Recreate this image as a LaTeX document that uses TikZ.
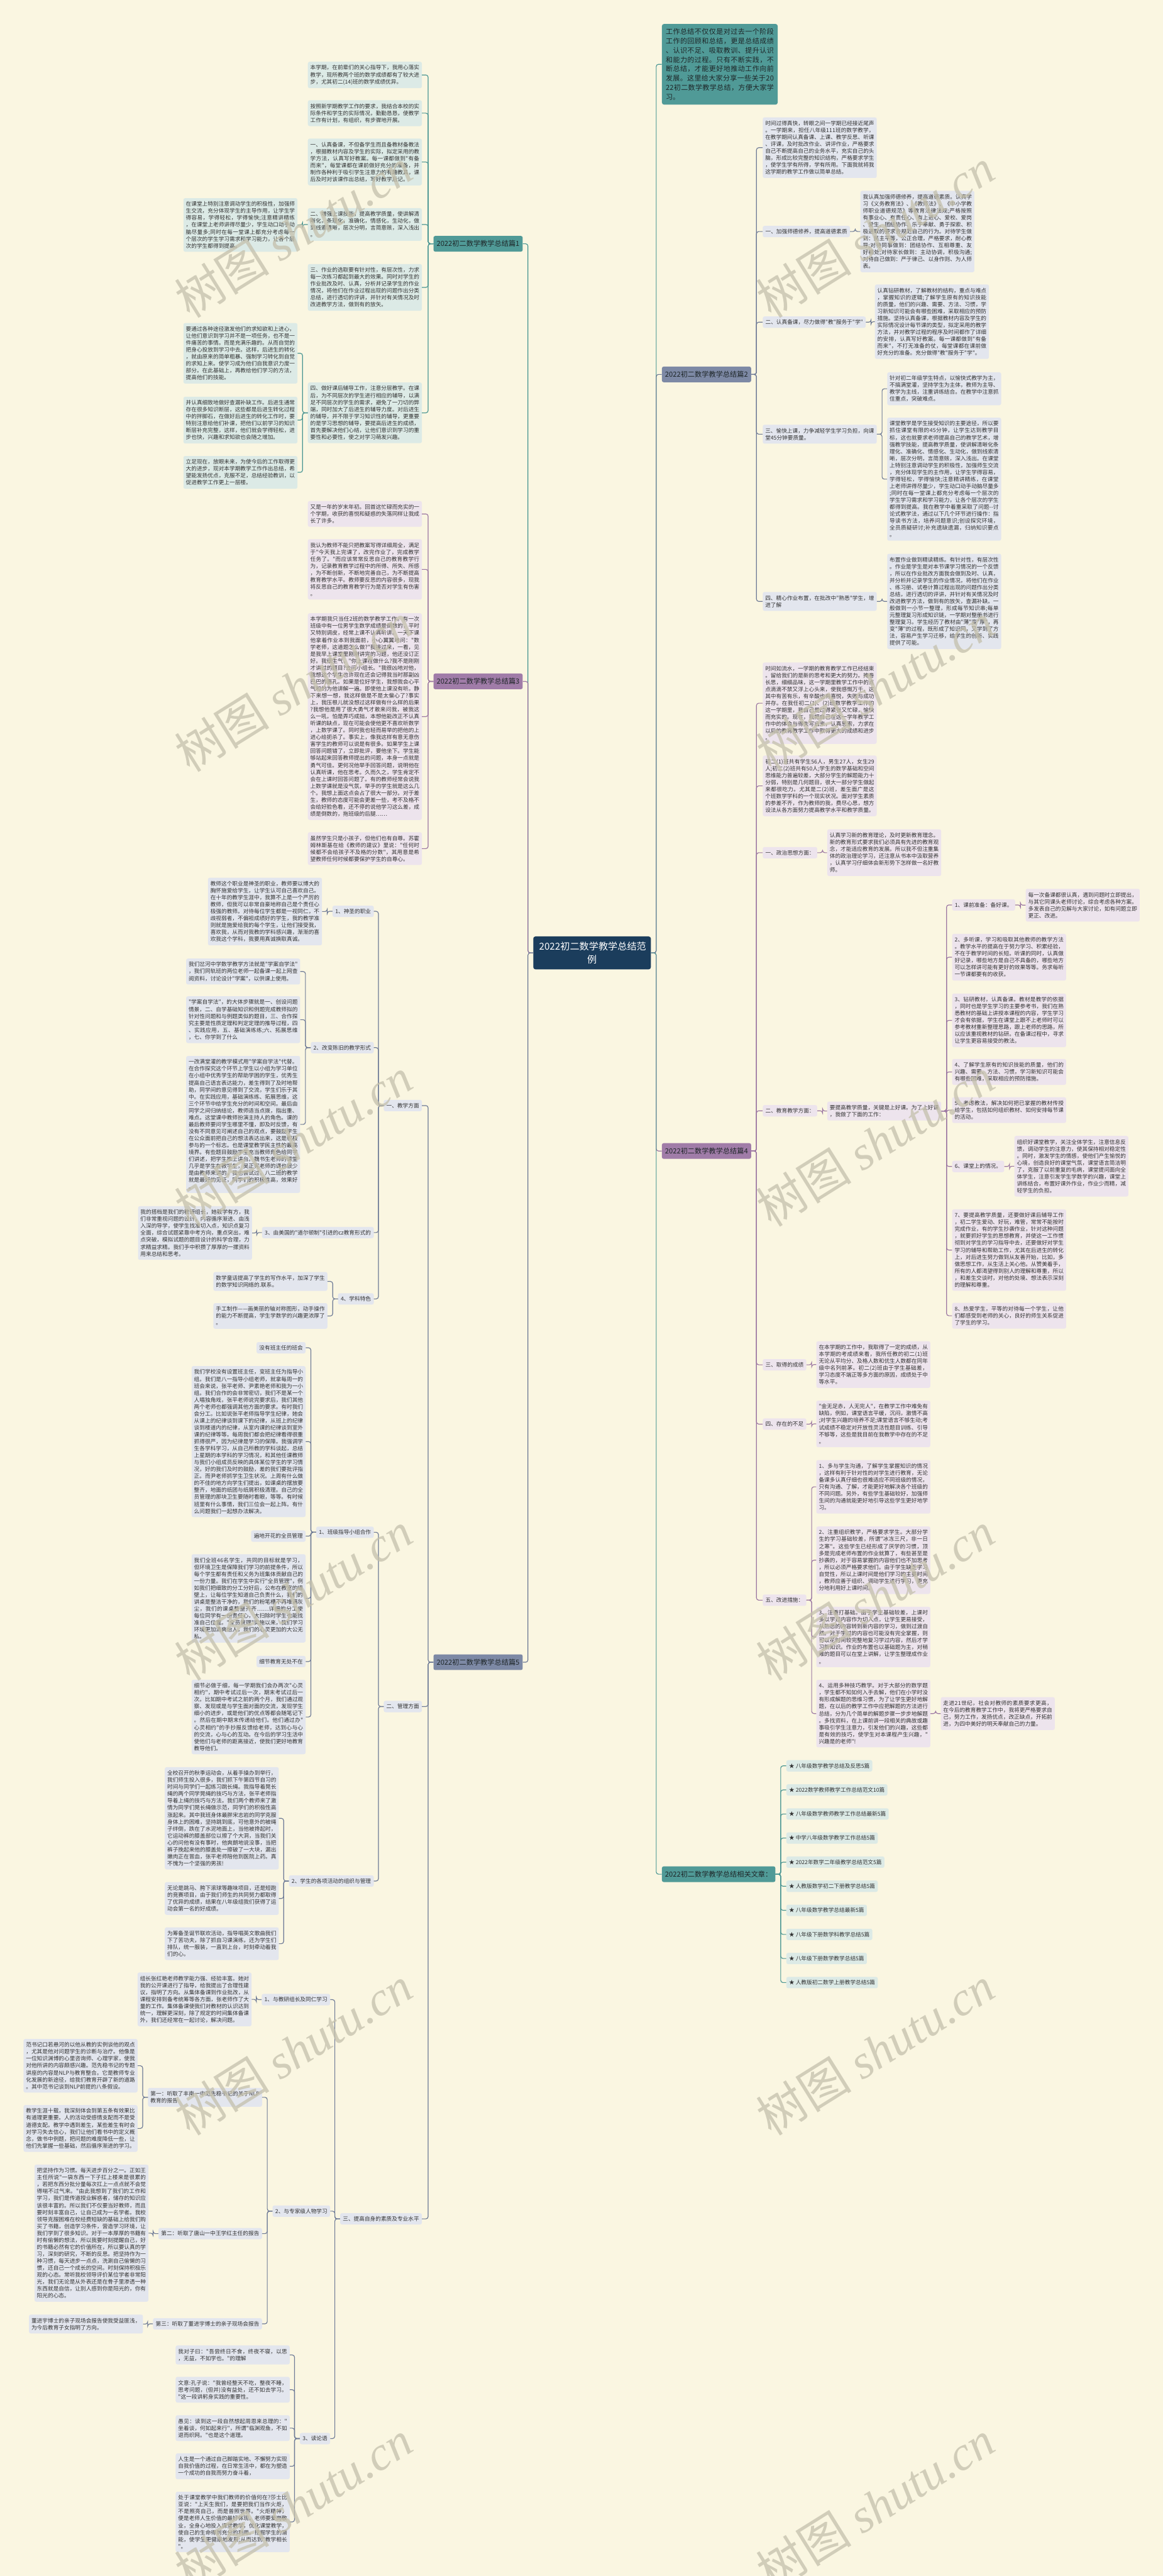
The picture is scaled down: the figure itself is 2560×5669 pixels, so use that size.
\documentclass[tikz,border=0pt]{standalone}
\usepackage{fontspec}
\newfontfamily\cjk{Noto Sans CJK SC}
\newfontfamily\wmlat{Liberation Serif}
\setlength\parindent{0pt}
\ExplSyntaxOn
\NewDocumentCommand\cb{m}{\tl_map_inline:nn{#1}{##1\penalty0\hskip0pt~plus~0.8pt\relax}}
\ExplSyntaxOff
\definecolor{bgc}{RGB}{250,246,225}
\definecolor{txtc}{RGB}{51,51,51}
\definecolor{brTxt}{RGB}{30,38,40}
\definecolor{tealL}{RGB}{74,150,147}
\definecolor{tealF}{RGB}{80,154,151}
\definecolor{tealLt}{RGB}{220,234,230}
\definecolor{purL}{RGB}{155,118,162}
\definecolor{purF}{RGB}{160,124,168}
\definecolor{purLt}{RGB}{237,228,237}
\definecolor{slaL}{RGB}{110,122,150}
\definecolor{slaF}{RGB}{125,137,165}
\definecolor{slaLt}{RGB}{227,230,238}
\definecolor{navy}{RGB}{27,61,92}
\definecolor{wmC}{RGB}{196,192,172}
\tikzset{
 ln/.style={line width=1.6pt, rounded corners=5pt},
 tln/.style={ln, draw=tealL}, pln/.style={ln, draw=purL}, sln/.style={ln, draw=slaL},
 bx/.style={rounded corners=4pt, inner xsep=5.5pt, inner ysep=7.5pt, text width=240pt, align=justify, font=\cjk\fontsize{12pt}{15.3pt}\selectfont, text=txtc},
 tbox/.style={bx, fill=tealLt}, pbox/.style={bx, fill=purLt}, sbox/.style={bx, fill=slaLt},
 lbl/.style={rounded corners=4pt, inner xsep=6pt, inner ysep=6.5pt, text height=10.5pt, text depth=1.5pt, font=\cjk\fontsize{12pt}{15.3pt}\selectfont, text=txtc},
 tlab/.style={lbl, fill=tealLt}, plab/.style={lbl, fill=purLt}, slab/.style={lbl, fill=slaLt},
 brn/.style={rounded corners=4pt, inner xsep=7pt, inner ysep=9.5pt, text height=13.5pt, text depth=2pt, font=\cjk\fontsize{15.5pt}{18pt}\selectfont, text=brTxt},
 wm/.style={font=\cjk\fontsize{105pt}{105pt}\selectfont, text=wmC, opacity=0.75, rotate=32},
}
\newcommand\conR[3]{\draw[#3] (#1.east) -- ++(11.5,0) |- (#2.west);}
\newcommand\conL[3]{\draw[#3] (#1.west) -- ++(-11.5,0) |- (#2.east);}
\begin{document}
\begin{tikzpicture}[x=1pt,y=-1pt]
\fill[bgc] (0,0) rectangle (2560,5669);
\useasboundingbox (0,0) rectangle (2560,5669);

% ---------- root and intro
\node[fill=navy, text=white, rounded corners=5pt, inner xsep=13pt, inner ysep=12.5pt, text width=233pt, align=center, font=\cjk\fontsize{21pt}{28pt}\selectfont] (root) at (1303.5,2097) {2022初二数学教学总结范\\例};
\node[fill=tealF, rounded corners=5pt, inner xsep=8.5pt, inner ysep=9.4pt, text width=238pt, align=justify, font=\cjk\fontsize{15.3pt}{20.7pt}\selectfont, text=brTxt, anchor=west] (intro) at (1457,141.5) {\cb{工作总结不仅仅是对过去一个阶段工作的回顾和总结，更是总结成绩、认识不足、吸取教训、提升认识和能力的过程。只有不断实践，不断总结，才能更好地推动工作向前发展。这里给大家分享一些关于2022初二数学教学总结，方便大家学习。}};

% ---------- branch labels
\node[brn, fill=tealF, anchor=east] (p1) at (1151,536.5) {2022初二数学教学总结篇1};
\node[brn, fill=purF, anchor=east] (p3) at (1151,1499.5) {2022初二数学教学总结篇3};
\node[brn, fill=slaF, anchor=east] (p5) at (1151,3658) {2022初二数学教学总结篇5};
\node[brn, fill=slaF, anchor=west] (p2) at (1457,824) {2022初二数学教学总结篇2};
\node[brn, fill=purF, anchor=west] (p4) at (1457,2533) {2022初二数学教学总结篇4};
\node[brn, fill=tealF, anchor=west] (pr) at (1457,4124.5) {2022初二数学教学总结相关文章：};

% ---------- 篇1
\node[tbox, anchor=east] (a1) at (929,165) {\cb{本学期，在前辈们的关心指导下，我用心落实教学，现所教两个班的数学成绩都有了较大进步，尤其初二(14)班的数学成绩优异。}};
\node[tbox, anchor=east] (a2) at (929,249) {\cb{按照新学期教学工作的要求，我结合本校的实际条件和学生的实际情况，勤勤恳恳，使教学工作有计划，有组织，有步骤地开展。}};
\node[tbox, anchor=east] (a3) at (929,356.5) {\cb{一、认真备课，不但备学生而且备教材备教法，根据教材内容及学生的实际，拟定采用的教学方法，认真写好教案。每一课都做到"有备而来"，每堂课都在课前做好充分的准备，并制作各种利于吸引学生注意力的有趣教具，课后及时对该课作出总结，写好教学后记。}};
\node[tbox, anchor=east] (a4) at (929,494) {\cb{二、增强上课技能，提高教学质量，使讲解清晰化，条理化，准确化，情感化，生动化，做到线索清晰，层次分明，言简意赅，深入浅出。}};
\node[tbox, anchor=east] (a4x) at (655,495) {\cb{在课堂上特别注意调动学生的积极性，加强师生交流，充分体现学生的主导作用，让学生学得容易，学得轻松，学得愉快;注意精讲精练，在课堂上老师讲得尽量少，学生动口动手动脑尽量多;同时在每一堂课上都充分考虑每一个层次的学生学习需求和学习能力，让各个层次的学生都得到提高。}};
\node[tbox, anchor=east] (a5) at (929,632.5) {\cb{三、作业的选取要有针对性，有层次性，力求每一次练习都起到最大的效果。同时对学生的作业批改及时、认真，分析并记录学生的作业情况，将他们在作业过程出现的问题作出分类总结，进行透切的评讲，并针对有关情况及时改进教学方法，做到有的放矢。}};
\node[tbox, anchor=east] (a6) at (929,908.5) {\cb{四、做好课后辅导工作，注意分层教学。在课后，为不同层次的学生进行相应的辅导，以满足不同层次的学生的需求，避免了一刀切的弊端，同时加大了后进生的辅导力度。对后进生的辅导，并不限于学习知识性的辅导，更重要的是学习思想的辅导，要提高后进生的成绩，首先要解决他们心结，让他们意识到学习的重要性和必要性，使之对学习萌发兴趣。}};
\node[tbox, anchor=east] (a6a) at (655,777.5) {\cb{要通过各种途径激发他们的求知欲和上进心，让他们意识到学习并不是一项任务，也不是一件痛苦的事情。而是充满乐趣的。从而自觉的把身心投放到学习中去。这样，后进生的转化，就由原来的简单粗暴、强制学习转化到自觉的求知上来。使学习成为他们自我意识力度一部分。在此基础上，再教给他们学习的方法，提高他们的技能。}};
\node[tbox, anchor=east] (a6b) at (655,924.5) {\cb{并认真细致地做好查漏补缺工作。后进生通常存在很多知识断层，这些都是后进生转化过程中的拌脚石，在做好后进生的转化工作时，要特别注意给他们补课，把他们以前学习的知识断层补充完整，这样，他们就会学得轻松，进步也快，兴趣和求知欲也会随之增加。}};
\node[tbox, anchor=east] (a6c) at (655,1039.5) {\cb{立足现在，放眼未来，为使今后的工作取得更大的进步，现对本学期教学工作作出总结，希望能发扬优点，克服不足，总结经验教训，以促进教学工作更上一层楼。}};

% ---------- 篇3
\node[pbox, anchor=east] (b1) at (929,1131) {\cb{又是一年的岁末年初。回首这忙碌而充实的一个学期，收获的喜悦和疑惑的失落同样让我成长了许多。}};
\node[pbox, anchor=east] (b2) at (929,1253) {\cb{我认为教师不能只把教案写得详细周全，满足于"今天我上完课了，改完作业了，完成教学任务了。"而应该常常反思自己的教育教学行为，记录教育教学过程中的所得、所失、所感，为不断创新，不断地完善自己，为不断提高教育教学水平。教师要反思的内容很多，现我将反思自己的教育教学行为是否对学生有伤害。}};
\node[pbox, anchor=east] (b3) at (929,1577) {\cb{本学期我只当任2班的数学教学工作。有一次班级中有一位男学生数学成绩是倒数的，平时又特别调皮，经常上课不认真听讲。一天下课他拿着作业本到我面前，小心翼翼地问："数学老师，这道题怎么做?"我接过来，一看，见是我早上课堂里刚刚讲完的习题，他还没订正好。我很生气，"你上课在做什么?我不是刚刚才讲过的题目?去问小组长。"我很凶地对他，我想这个学生也许现在还会记得我当时那副凶巴巴的面孔。如果是位好学生，我想我会心平气和的为他讲解一遍。即使他上课没有听。静下来想一想，我这样做是不是太偏心了?事实上，我压根儿就没想过这样做有什么样的后果?我想他是用了很大勇气才敢来问我，被我这么一吼，怕是弄巧成拙，本想他能改正不认真听课的缺点，现在可能会使他更不喜欢听数学，上数学课了。同时我也轻而易举的把他的上进心给扼杀了。事实上，像我这样有意无意伤害学生的教师可以说是有很多。如果学生上课回答问题错了，立即批评，要他坐下。学生能够站起来回答教师提出的问题，本身一点就是勇气可佳。更何况他举手回答问题，说明他在认真听课，他在思考。久而久之，学生肯定不会在上课时回答问题了。有的教师经常会说我上数学课就是没气氛，举手的学生就是这么几个。我想上面这点会占了很大一部分。对于差生，教师的态度可能会更差一些，考不及格不会给好脸色看，还不停的说他学习这么差，成绩是倒数的，拖班级的后腿……}};
\node[pbox, anchor=east] (b4) at (929,1867.5) {\cb{虽然学生只是小孩子，但他们也有自尊。苏霍姆林斯基在给《教师的建议》里说："任何时候都不会给孩子不及格的分数"，其用意是希望教师任何时候都要保护学生的自尊心。}};

% ---------- 篇5
\node[slab, anchor=east] (e1) at (929,2433) {一、教学方面};
\node[slab, anchor=east] (e11) at (823,2005.5) {1、神圣的职业};
\node[sbox, anchor=east] (e11x) at (709,2006) {\cb{教师这个职业是神圣的职业，教师要以博大的胸怀施爱给学生，让学生认可自己喜欢自己。在十年的教学生涯中，我算不上是一个严厉的教师，但我可以非常自豪地称自己是个责任心极强的教师。对待每位学生都是一视同仁，不歧视弱者，不偏袒成绩好的学生，我的教学准则就是施爱给我的每个学生，让他们接受我，喜欢我，从而对我教的学科感兴趣，渐渐的喜欢我这个学科，我要用真诚换取真诚。}};
\node[slab, anchor=east] (e12) at (823,2305.5) {2、改变陈旧的教学形式};
\node[sbox, anchor=east] (e12a) at (661,2138) {\cb{我们岔河中学数学教学方法就是"学案自学法"，我们同轨班的两位老师一起备课一起上网查阅资料，讨论设计"学案"，以供课上使用。}};
\node[sbox, anchor=east] (e12b) at (661,2244) {\cb{"学案自学法"，的大体步骤就是一、创设问题情景，二、自学基础知识和例题完成教师拟的针对性问题和与例题类似的题目，三、合作探究主要是性质定理和判定定理的推导过程，四、实践应用，五、基础演练练;六、拓展思维，七、你学到了什么}};
\node[sbox, anchor=east] (e12c) at (661,2474.5) {\cb{一改满堂灌的教学模式用"学案自学法"代替。在合作探究这个环节上学生以小组为学习单位在小组中优秀学生的帮助学困的学生，优秀生提高自己语言表达能力，差生得到了及时地帮助，同学间的意见得到了交流，学生们乐于其中。在实践应用，基础演练练、拓展思维，这三个环节中给学生充分的时间和空间。最后由同学之间归纳结论，教师适当点拨，指出重、难点。这堂课中教师扮演主持人的角色。课的最后教师要问学生哪里不懂，即及时反馈，有没有不同意见可阐述自己的观点，要鼓励学生在公众面前把自己的想法表达出来，这是积极参与的一个标志。也是课堂教学民主性的最高境界。有些题目鼓励学生充当教师角色给同学们讲述，把学生推上讲台。魏书生老师的课堂几乎是学生在教学生，吴正宪老师的课也很少是由教师来讲的，我也尝试过，八二班的教学就是最好的见证，同学们的积极性高，效果好。}};
\node[slab, anchor=east] (e13) at (823,2712.5) {3、由美国的"道尔顿制"引进的cz教育形式的};
\node[sbox, anchor=east] (e13x) at (555,2713.5) {\cb{我的搭档是我们的教研组长，她教学有方，我们非常重视问题的设计，内容循序渐进、由浅入深的导学，使学生找准切入点，知识点复习全面，综合试题紧靠中考方向，重点突出，难点突破，模拟试题的题目设计的科学合理，力求精益求精。我们手中积攒了厚厚的一摞资料用来总结和思考。}};
\node[slab, anchor=east] (e14) at (823,2858.5) {4、学科特色};
\node[sbox, anchor=east] (e14a) at (721,2820) {\cb{数学童话提高了学生的写作水平，加深了学生的数学知识网络的.联系。}};
\node[sbox, anchor=east] (e14b) at (721,2896) {\cb{手工制作——画美丽的轴对称图形，动手操作的能力不断提高，学生学数学的兴趣更浓厚了。}};

\node[slab, anchor=east] (e2) at (929,3755.5) {二、管理方面};
\node[slab, anchor=east] (e21) at (823,3372) {1、班级指导小组合作};
\node[slab, anchor=east] (e21a) at (673,2966) {没有班主任的班会};
\node[sbox, anchor=east] (e21b) at (673,3172.5) {\cb{我们学校没有设置班主任，变班主任为指导小组。我们是八一指导小组老师，就拿每周一的班会来说，张平老师、尹素艳老师和我为一小组。我们合作的会非常密切，我们不是某一个人唱独角戏，张平老师说完要求后，我们其他两个老师也都强调其他方面的要求。有时我们会分工。比如说张平老师指导学生纪律，她会从课上的纪律谈到课下的纪律，从班上的纪律谈到楼道内的纪律，从室内课的纪律谈到室外课的纪律等等。每周我们都会把纪律看得很重抓得很严，因为纪律是学习的保障。我强调学生各学科学习，从自己所教的学科谈起，总结上星期的本学科的学习情况，和其他任课教师与我们小组成员反映的具体某位学生的学习情况，好的我们及时的鼓励，差的我们要批评指正。而尹老师抓学生卫生状况。上周有什么做的不佳的地方向学生们提出，如课桌的摆放要整齐，地面的纸团与纸屑积极清理。自己的全员管理的那块卫生要随时看眼，等等。有时候班里有什么事情，我们三位会一起上阵。有什么问题我们一起想办法解决。}};
\node[slab, anchor=east] (e21c) at (673,3380.5) {遍地开花的全员管理};
\node[sbox, anchor=east] (e21d) at (673,3517.5) {\cb{我们全班46名学生，共同的目标就是学习，但环境卫生是保障我们学习的前提条件，所以每个学生都有责任和义务为班集体贡献自己的一份力量。我们在学生中实行"全员管理"，例如我们把细致的分工分好后，公布在教室的墙壁上，让每位学生知道自己负责什么，我们的讲桌是整洁干净的，我们的粉笔槽不再堆满灰尘，我们的课桌整整齐齐……详细的分工使每位同学有一份责任心，大扫除时学生也能找准自己位置。"全员管理"实施以来，我们学习环境更加清爽怡人，我们的心灵更加的大公无私。}};
\node[slab, anchor=east] (e21e) at (673,3656.5) {细节教育无处不在};
\node[sbox, anchor=east] (e21f) at (673,3778.5) {\cb{细节必做于细，每一学期我们会办两次"心灵相约"，期中考试过后一次，期末考试过后一次。比如期中考试之前的两个月，我们通过观察、发现或是与学生面对面的交流，发现学生细小的进步，或是他们的优点等都会随笔记下。然后在期中期末传递给他们。他们通过办"心灵相约"的手抄报反馈给老师，达到心与心的交流，心与心的互动。在今后的学习生活中使他们与老师的距离接近，使我们更好地教育教导他们。}};
\node[slab, anchor=east] (e22) at (823,4139.5) {2、学生的各项活动的组织与管理};
\node[sbox, anchor=east] (e22a) at (614,4001.5) {\cb{全校召开的秋季运动会，从着手操办到举行，我们师生投入很多，我们抓下午第四节自习的时间与同学们一起练习跳长绳。我指导着晃长绳的两个同学晃绳的技巧与方法，张平老师指导着上绳的技巧与方法。我们两个教师来了激情为同学们晃长绳做示范，同学们的积极性高涨起来。其中我班身体最胖宋志岩的同学克服身体上的困难，坚持跳到底，可他意外的被绳子绊倒，跌在了水泥地面上，当他被搀起时，它运动裤的膝盖部位以擦了个大洞，当我们关心的问他有没有事时，他爽朗地说没事，当把裤子挽起来他的膝盖处一擦破了一大块，漏出嫩肉正在冒血，张平老师陪他到医院上药。真不愧为一个坚强的男孩!}};
\node[sbox, anchor=east] (e22b) at (614,4178) {\cb{无论是跳马、胯下滚球等趣味项目，还是短跑的竞赛项目，由于我们师生的共同努力都取得了优异的成绩，结果在八年级组我们获得了运动会第一名的好成绩。}};
\node[sbox, anchor=east] (e22c) at (614,4277.5) {\cb{为筹备圣诞节联欢活动，指导唱英文歌曲我们下了苦功夫，除了抓自习课演练，还为学生们排队，统一服装，一直到上台，时刻牵动着我们的心。}};

\node[slab, anchor=east] (e3) at (929,4883) {三、提高自身的素质及专业水平};
\node[slab, anchor=east] (e31) at (727,4400.5) {1、与教研组长及同仁学习};
\node[sbox, anchor=east] (e31x) at (554,4400) {\cb{组长张红艳老师教学能力强、经验丰富。她对我的公开课进行了指导，给我提出了合理性建议，指明了方向。从集体备课到作业批改，从课程安排到备考统筹等各方面，张老师作了大量的工作。集体备课使我们对教材的认识达到统一，理解更深刻，除了规定的时间集体备课外，我们还经常在一起讨论，解决问题。}};
\node[slab, anchor=east] (e32) at (727,4866) {2、与专家级人物学习};
\node[sbox, anchor=east] (e32a) at (577,4615.5) {\cb{第一：听取了丰南一中范先稳书记的关于NLP教育的报告}};
\node[sbox, anchor=east] (e32a1) at (303,4546) {\cb{范书记口若悬河的以他从教的实例谈他的观点，尤其是他对问题学生的诊断与治疗。他像是一位知识渊博的心里咨询师、心理学家，使我对他所讲的内容颇感兴趣。范先稳书记的专题讲座的内容是NLP与教育整合。它是教师专业化发展的新途径，给我们教育开辟了新的道路。其中范书记谈到NLP前提的八条假设。}};
\node[sbox, anchor=east] (e32a2) at (303,4684) {\cb{教学生涯十载，我深刻体会到第五条有效果比有道理更重要。人的活动受感情支配而不是受道德支配。教学中遇到差生，某些差生有时会对学习失去信心，我们让他们看书中的定义概念，做书中例题，把问题的难度降低一些，让他们先掌握一些基础，然后循序渐进的学习。}};
\node[slab, anchor=east] (e32b) at (577,4915.5) {第二：听取了唐山一中王学红主任的报告};
\node[sbox, anchor=east] (e32bx) at (327,4914.5) {\cb{把坚持作为习惯。每天进步百分之一。正如王主任所说"一袋东西一下子扛上楼来是很累的，若把东西分批分量每次扛上一点点就不会觉得喘不过气来。"由此我想到了我们的工作和学习，我们是传道授业解惑者，储存的知识应该很丰富的。所以我们不仅要当好教师，而且要时刻丰富自己，让自己成为一名学者。我校领导克服困难在校经费短缺的基础上给我们购买了书籍，创造学习条件，营造学习环境，让我们学到了很多知识。对于一本厚厚的书籍有时有偷懒的想法，所以我要时刻提醒自己，好的书籍必然有它的价值所在，所以要认真的学习，深刻的研究，不断的反思。把坚持作为一种习惯，每天进步一点点，洗涮自己偷懒的习惯，还自己一个成长的空间。时刻保持积极乐观的心态。常听我校领导评价某位学者非常阳光，我们无论是从外表还是在骨子里渗透一种东西就是自信，让别人感到你是阳光的，你有阳光的心态。}};
\node[slab, anchor=east] (e32c) at (577,5114) {第三：听取了董进宇博士的亲子现场会报告};
\node[sbox, anchor=east] (e32cx) at (315,5114.5) {\cb{董进宇博士的亲子现场会报告使我受益匪浅，为今后教育子女指明了方向。}};
\node[slab, anchor=east] (e33) at (727,5366.5) {3、读论语};
\node[sbox, anchor=east] (e33a) at (638,5182.5) {\cb{我对子曰："吾尝终日不食，终夜不寝，以思，无益，不如学也。"的理解}};
\node[sbox, anchor=east] (e33b) at (638,5259) {\cb{文意:孔子说："我曾经整天不吃，整夜不睡，思考问题，(但并)没有益处，还不如去学习。"这一段讲躬身实践的重要性。}};
\node[sbox, anchor=east] (e33c) at (638,5343.5) {\cb{愚见：读到这一段自然想起周恩来总理的："坐着谈，何如起来行"，所谓"临渊观鱼，不如退而织网。"也是这个道理。}};
\node[sbox, anchor=east] (e33d) at (638,5427.5) {\cb{人生是一个通过自己脚踏实地、不懈努力实现自我价值的过程，在日常生活中，都在为塑造一个成功的自我而努力奋斗着，}};
\node[sbox, anchor=east] (e33e) at (638,5550) {\cb{处于课堂教学中我们教师的价值何在?莎士比亚说："上天生我们，是要把我们当作火炬，不是照亮自己，而是普照世界。"火炬精神，便是老师人生价值的最好体现。老师要爱岗敬业，全身心地投入课堂教学，优化课堂教学，使自己的生命得到充分的利用。挖掘学生的潜能，使学生更健康地发展;从而达到"教学相长"。}};

% ---------- 篇2
\node[sbox, anchor=west] (f1) at (1679,325) {\cb{时间过得真快，转眼之间一学期已经接近尾声。一学期来，担任八年级111班的数学教学，在教学期间认真备课、上课、教学反思、听课、评课，及时批改作业、讲评作业，严格要求自己不断提高自己的业务水平，充实自己的头脑，形成比较完整的知识结构，严格要求学生，使学生学有所得，学有所用。下面我就将我这学期的教学工作做以简单总结。}};
\node[slab, anchor=west] (f2) at (1679,509.5) {一、加强师德修养，提高道德素质};
\node[sbox, anchor=west] (f2x) at (1894,509.5) {\cb{我认真加强师德修养，提高道德素质。认真学习《义务教育法》、《教师法》、《中小学教师职业道德规范》等教育法律法规;严格按照有事业心、有责任心、有上进心、爱校、爱岗、爱生、团结协作、乐于奉献、勇于探索、积极进取的要求去规范自己的行为。对待学生做到：民主平等，公正合理，严格要求，耐心教导;对待同事做到：团结协作、互相尊重、友好相处;对待家长做到：主动协调，积极沟通;对待自己做到：严于律己、以身作则、为人师表。}};
\node[slab, anchor=west] (f3) at (1679,709) {二、认真备课，尽力做得"教"服务于"学"};
\node[sbox, anchor=west] (f3x) at (1926,708) {\cb{认真钻研教材，了解教材的结构，重点与难点，掌握知识的逻辑;了解学生原有的知识技能的质量，他们的兴趣、需要、方法、习惯，学习新知识可能会有哪些困难，采取相应的预防措施。坚持认真备课，根据教材内容及学生的实际情况设计每节课的类型，拟定采用的教学方法，并对教学过程的程序及时间都作了详细的安排，认真写好教案。每一课都做到"有备而来"，不打无准备的仗，每堂课都在课前做好充分的准备。充分做得"教"服务于"学"。}};
\node[sbox, anchor=west] (f4) at (1679,955.5) {\cb{三、愉快上课，力争减轻学生学习负担，向课堂45分钟要质量。}};
\node[sbox, anchor=west] (f4a) at (1953,855.5) {\cb{针对初二年级学生特点，以愉快式教学为主，不搞满堂灌，坚持学生为主体，教师为主导、教学为主线，注重讲练结合。在教学中注意抓住重点，突破难点。}};
\node[sbox, anchor=west] (f4b) at (1953,1054.5) {\cb{课堂教学是学生接受知识的主要途径，所以要抓住课堂有限的45分钟，让学生达到教学目标，这也就要求老师提高自己的教学艺术，增强教学技能，提高教学质量，使讲解清晰化条理化、准确化、情感化、生动化，做到线索清晰，层次分明，言简意赅，深入浅出。在课堂上特别注意调动学生的积极性，加强师生交流，充分体现学生的主作用，让学生学得容易，学得轻松，学得愉快;注意精讲精练，在课堂上老师讲得尽量少，学生动口动手动脑尽量多;同时在每一堂课上都充分考虑每一个层次的学生学习需求和学习能力，让各个层次的学生都得到提高。我在教学中着重采取了问题--讨论式教学法，通过以下几个环节进行操作：指导读书方法，培养问题意识;创设探究环境，全员质疑研讨;补充遗缺遗漏，归纳知识要点。}};
\node[sbox, anchor=west] (f5) at (1679,1323.5) {\cb{四、精心作业布置，在批改中"熟悉"学生，增进了解}};
\node[sbox, anchor=west] (f5x) at (1953,1323.5) {\cb{布置作业做到精读精练。有针对性，有层次性。作业是学生是对本节课学习情况的一个反馈，所以在作业批改方面我会做到及时、认真，并分析并记录学生的作业情况，将他们在作业、练习册、试卷计算过程出现的问题作出分类总结，进行透切的评讲，并针对有关情况及时改进教学方法，做到有的放矢，查漏补缺。一般做到一小节一整理，形成每节知识串;每单元整理复习形成知识链，一学期对整册书进行整理复习。学生经历了教材由"薄"变"厚"，再变"薄"的过程，既形成了知识网，又学到了方法，容易产生学习迁移，给学生的创新、实践提供了可能。}};

% ---------- 篇4
\node[pbox, anchor=west] (g1) at (1679,1547.5) {\cb{时间如流水，一学期的教育教学工作已经结束。留给我们的是新的思考和更大的努力。掩卷长思，细细品味，这一学期里教学工作中的点点滴滴不禁又浮上心头来，使我感慨万千，这其中有苦有乐，有辛酸也有喜悦，失败与成功并存。在我任初二(1)、(2)班数学教学工作的这一学期里，我自己是过得紧张又忙碌，愉快而充实的。现在，我把自己在这一学年教学工作中的体会与得失写出来，认真思索，力求在以后的教育教学工作中取得更大的成绩和进步。}};
\node[pbox, anchor=west] (g2) at (1679,1729.5) {\cb{初二(1)班共有学生56人，男生27人，女生29人;初二(2)班共有50人;学生的数学基础和空间思维能力普遍较差，大部分学生的解题能力十分弱，特别是几何题目，很大一部分学生做起来都很吃力。尤其是二(2)班，差生面广是这个班数学学科的一个现实状况。面对学生素质的参差不齐，作为教师的我，费尽心思，想方设法从各方面努力提高教学水平和教学质量。}};
\node[plab, anchor=west] (g3) at (1679,1876.5) {一、政治思想方面：};
\node[pbox, anchor=west] (g3x) at (1821,1876.5) {\cb{认真学习新的教育理论，及时更新教育理念。新的教育形式要求我们必须具有先进的教育观念，才能适应教育的发展。所以我不但注重集体的政治理论学习，还注意从书本中汲取营养，认真学习仔细体会新形势下怎样做一名好教师。}};
\node[plab, anchor=west] (g4) at (1679,2444.5) {二、教育教学方面：};
\node[pbox, anchor=west] (g4x) at (1821,2445) {\cb{要提高教学质量，关键是上好课。为了上好课，我做了下面的工作：}};
\node[plab, anchor=west] (h1) at (2096,1991.5) {1、课前准备：备好课。};
\node[pbox, anchor=west] (h1x) at (2258,1992) {\cb{每一次备课都很认真，遇到问题时立即提出，与其它同课头老师讨论，综合考虑各种方案。多发表自己的见解与大家讨论，如有问题立即更正、改进。}};
\node[pbox, anchor=west] (h2) at (2096,2106.5) {\cb{2、多听课，学习和吸取其他教师的教学方法。教学水平的提高在于努力学习、积累经验，不在于教学时间的长短。听课的同时，认真做好记录，哪些地方是自己不具备的，哪些地方可以怎样讲可能有更好的效果等等。务求每听一节课都要有的收获。}};
\node[pbox, anchor=west] (h3) at (2096,2245.5) {\cb{3、钻研教材，认真备课。教材是教学的依据，同时也是学生学习的主要参考书，我们在熟悉教材的基础上讲授本课程的内容，学生学习才会有依据，学生在课堂上跟不上老师时可以参考教材重新整理思路，跟上老师的思路，所以应该重视教材的钻研。在备课过程中，寻求让学生更容易接受的教法。}};
\node[pbox, anchor=west] (h4) at (2096,2359) {\cb{4、了解学生原有的知识技能的质量，他们的兴趣、需要、方法、习惯，学习新知识可能会有哪些困难，采取相应的预防措施。}};
\node[pbox, anchor=west] (h5) at (2096,2443) {\cb{5、考虑教法，解决如何把已掌握的教材传授给学生，包括如何组织教材、如何安排每节课的活动。}};
\node[plab, anchor=west] (h6) at (2096,2567) {6、课堂上的情况。};
\node[pbox, anchor=west] (h6x) at (2233,2566.5) {\cb{组织好课堂教学，关注全体学生，注意信息反馈，调动学生的注意力，使其保持相对稳定性。同时，激发学生的情感，使他们产生愉悦的心境，创造良好的课堂气氛，课堂语言简洁明了，克服了以前重复的毛病，课堂提问面向全体学生，注意引发学生学数学的兴趣，课堂上讲练结合，布置好课外作业，作业少而精，减轻学生的负担。}};
\node[pbox, anchor=west] (h7) at (2096,2751) {\cb{7、要提高教学质量，还要做好课后辅导工作，初二学生爱动、好玩，难管，常常不能按时完成作业，有的学生抄袭作业，针对这种问题，就要抓好学生的思想教育，并使这一工作惯彻到对学生的学习指导中去，还要做好对学生学习的辅导和帮助工作，尤其在后进生的转化上，对后进生努力做到从友善开始，比如，多做思想工作，从生活上关心他。从赞美着手，所有的人都渴望得到别人的理解和尊重，所以，和差生交谈时，对他的处境、想法表示深刻的理解和尊重。}};
\node[pbox, anchor=west] (h8) at (2096,2895.5) {\cb{8、热爱学生，平等的对待每一个学生，让他们都感受到老师的关心，良好的师生关系促进了学生的学习。}};
\node[plab, anchor=west] (g5) at (1679,3003.5) {三、取得的成绩};
\node[pbox, anchor=west] (g5x) at (1797,3003) {\cb{在本学期的工作中，我取得了一定的成绩，从本学期的考成绩来看，我所任教的初二(1)班无论从平均分、及格人数和优生人数都在同年级中名列前茅。初二(2)班由于学生基础差，学习态度不端正等多方面的原因，成绩处于中等水平。}};
\node[plab, anchor=west] (g6) at (1679,3134) {四、存在的不足};
\node[pbox, anchor=west] (g6x) at (1797,3133.5) {\cb{"金无足赤，人无完人"，在教学工作中难免有缺陷，例如，课堂语言平缓，沉闷，激情不高;对学生兴趣的培养不足;课堂语言不够生动;考试成绩不稳定对开放性灵活性题目训练、引导不够等，这些是我目前在我教学中存在的不足。}};
\node[plab, anchor=west] (g7) at (1679,3521.5) {五、改进措施：};
\node[pbox, anchor=west] (i1) at (1797,3272) {\cb{1、多与学生沟通，了解学生掌握知识的情况，这样有利于针对性的对学生进行教育，无论备课多认真仔细也很难适应不同班级的情况，只有沟通、了解，才能更好地解决各个班级的不同问题。另外，有些学生基础较好，加强师生间的沟通就能更好地引导这些学生更好地学习。}};
\node[pbox, anchor=west] (i2) at (1797,3433.5) {\cb{2、注重组织教学，严格要求学生。大部分学生的学习基础较差，所谓"冰冻三尺，非一日之寒"。这些学生已经形成了厌学的习惯，顶多是完成老师布置的作业就算了，有些甚至是抄袭的，对于容易掌握的内容他们也不加思考，所以必须严格要求他们。由于学生缺乏学习自觉性，所以上课时间是他们学习的主要时间，教师应善于组织、调动学生进行学习，更充分地利用好上课时间。}};
\node[pbox, anchor=west] (i3) at (1797,3602.5) {\cb{3、注重打基础。由于学生基础较差，上课时多以学过内容作为切入点，让学生更易接受，从熟悉的内容转到新内容的学习，做到过渡自然。对于学过的内容也可能没有完全掌握，则可以花时间较完整地复习学过内容，然后才学习新知识。作业的布置也以基础题为主，对稍难的题目可以在堂上讲解，让学生整理成作业。}};
\node[pbox, anchor=west] (i4) at (1797,3771) {\cb{4、运用多种技巧教学。对于大部分的数学题，学生都不知如何入手去解，他们在小学时没有形成解题的思维习惯，为了让学生更好地解题，在以后的教学工作中应把解题的方法进行总结，分为几个简单的解题步骤一步步地解题。多找资料，在上课前讲一段相关的典故或趣事吸引学生注意力，引发他们的兴趣，这些都是有效的技巧，使学生对本课程产生兴趣，"兴趣是的老师"!}};
\node[pbox, anchor=west] (i4x) at (2071,3771) {\cb{走进21世纪，社会对教师的素质要求更高，在今后的教育教学工作中，我将更严格要求自己，努力工作，发扬优点，改正缺点，开拓前进，为四中美好的明天奉献自己的力量。}};

% ---------- related
\foreach \t [count=\k from 0] in {八年级数学教学总结及反思5篇,2022数学教师教学工作总结范文10篇,八年级数学教师教学工作总结最新5篇,中学八年级数学教学工作总结5篇,2022年数学二年级教学总结范文5篇,人教版数学初二下册教学总结5篇,八年级数学教学总结最新5篇,八年级下册数学科教学总结5篇,八年级下册数学教学总结5篇,人教版初二数学上册教学总结5篇}{
 \node[tlab, anchor=west] (r\k) at (1731,3886+53*\k) {★ \t};
 \conR{pr}{r\k}{tln}
}

% ---------- connectors
\conR{root}{intro}{tln}
\conL{root}{p1}{tln}
\conL{root}{p3}{pln}
\conL{root}{p5}{sln}
\conR{root}{p2}{sln}
\conR{root}{p4}{pln}
\conR{root}{pr}{tln}

\foreach \c in {a1,a2,a3,a4,a5,a6}{\conL{p1}{\c}{tln}}
\conL{a4}{a4x}{tln}
\foreach \c in {a6a,a6b,a6c}{\conL{a6}{\c}{tln}}

\foreach \c in {b1,b2,b3,b4}{\conL{p3}{\c}{pln}}

\foreach \c in {e1,e2,e3}{\conL{p5}{\c}{sln}}
\foreach \c in {e11,e12,e13,e14}{\conL{e1}{\c}{sln}}
\conL{e11}{e11x}{sln}
\foreach \c in {e12a,e12b,e12c}{\conL{e12}{\c}{sln}}
\conL{e13}{e13x}{sln}
\foreach \c in {e14a,e14b}{\conL{e14}{\c}{sln}}
\foreach \c in {e21,e22}{\conL{e2}{\c}{sln}}
\foreach \c in {e21a,e21b,e21c,e21d,e21e,e21f}{\conL{e21}{\c}{sln}}
\foreach \c in {e22a,e22b,e22c}{\conL{e22}{\c}{sln}}
\foreach \c in {e31,e32,e33}{\conL{e3}{\c}{sln}}
\conL{e31}{e31x}{sln}
\foreach \c in {e32a,e32b,e32c}{\conL{e32}{\c}{sln}}
\foreach \c in {e32a1,e32a2}{\conL{e32a}{\c}{sln}}
\conL{e32b}{e32bx}{sln}
\conL{e32c}{e32cx}{sln}
\foreach \c in {e33a,e33b,e33c,e33d,e33e}{\conL{e33}{\c}{sln}}

\foreach \c in {f1,f2,f3,f4,f5}{\conR{p2}{\c}{sln}}
\conR{f2}{f2x}{sln}
\conR{f3}{f3x}{sln}
\foreach \c in {f4a,f4b}{\conR{f4}{\c}{sln}}
\conR{f5}{f5x}{sln}

\foreach \c in {g1,g2,g3,g4,g5,g6,g7}{\conR{p4}{\c}{pln}}
\conR{g3}{g3x}{pln}
\conR{g4}{g4x}{pln}
\foreach \c in {h1,h2,h3,h4,h5,h6,h7,h8}{\conR{g4x}{\c}{pln}}
\conR{h1}{h1x}{pln}
\conR{h6}{h6x}{pln}
\conR{g5}{g5x}{pln}
\conR{g6}{g6x}{pln}
\foreach \c in {i1,i2,i3,i4}{\conR{g7}{\c}{pln}}
\conR{i4}{i4x}{pln}

% ---------- watermark
\foreach \k in {0,...,5}{
 \node[wm] (wl\k) at (646,513+1000*\k) {树图 {\wmlat\itshape shutu.cn}};
 \node[wm] (wr\k) at (1927,513+1000*\k) {树图 {\wmlat\itshape shutu.cn}};
}
\end{tikzpicture}
\end{document}
